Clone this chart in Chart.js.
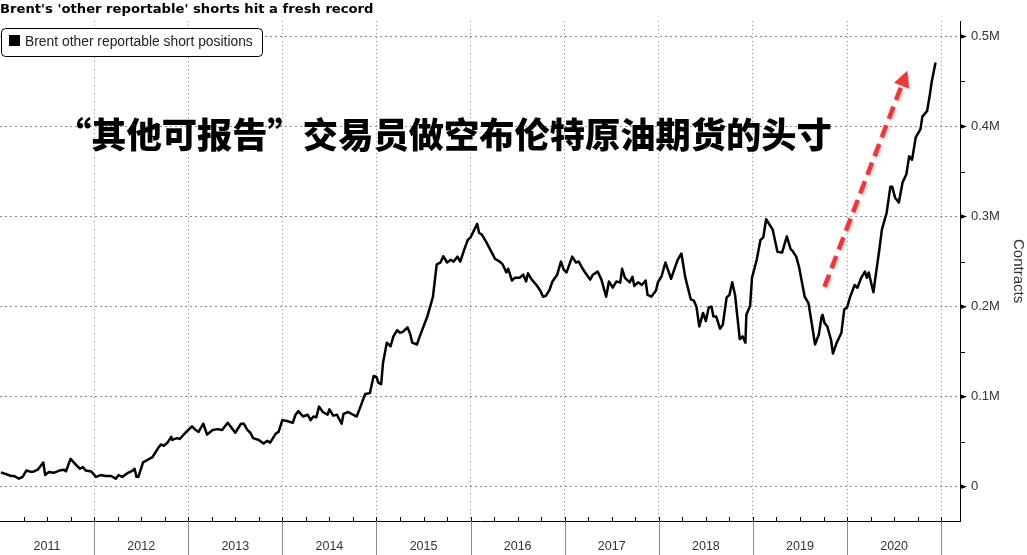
<!DOCTYPE html>
<html><head><meta charset="utf-8">
<script src="https://cdn.jsdelivr.net/npm/chart.js@4.4.1/dist/chart.umd.min.js"></script>
<style>html,body{margin:0;padding:0;background:#fff;overflow:hidden}#wrap{width:1027px;height:555px;position:relative}</style>
</head><body><div id="wrap"><canvas id="c" width="1027" height="555"></canvas></div>
<script>
const titleText = "Brent's 'other reportable' shorts hit a fresh record";
const seriesLabel = "Brent other reportable short positions";
const annotationText = "“其他可报告”交易员做空布伦特原油期货的头寸";
const axisTitle = "Contracts";
const yearLabels = ["2011","2012","2013","2014","2015","2016","2017","2018","2019","2020"];
const yTickValues = [0, 100, 200, 300, 400, 500]; // thousands of contracts
const arrowFrom = [2019.76, 222];
const arrowTo = [2020.64, 462];

// decimal year of each weekly observation (sampled)
const dates = [
2011.01,2011.12,2011.15,2011.20,2011.24,2011.28,2011.33,2011.36,2011.40,2011.46,2011.48,2011.52,2011.57,2011.63,2011.68,2011.70,2011.75,2011.81,2011.85,2011.88,2011.91,2011.97,
2012.02,2012.07,2012.12,2012.18,2012.23,2012.26,2012.30,2012.36,2012.41,2012.43,2012.45,2012.47,2012.52,2012.57,2012.62,2012.68,2012.71,2012.74,2012.78,2012.82,2012.83,2012.88,2012.91,2012.97,
2013.04,2013.08,2013.11,2013.16,2013.20,2013.26,2013.31,2013.36,2013.42,2013.45,2013.50,2013.56,2013.59,2013.63,2013.66,2013.69,2013.75,2013.80,2013.84,2013.87,2013.93,2013.96,
2014.00,2014.05,2014.11,2014.14,2014.17,2014.22,2014.27,2014.30,2014.33,2014.36,2014.39,2014.43,2014.48,2014.50,2014.54,2014.58,2014.63,2014.65,2014.70,2014.75,2014.79,2014.83,2014.88,2014.93,2014.97,
2015.00,2015.02,2015.05,2015.07,2015.11,2015.15,2015.18,2015.22,2015.25,2015.28,2015.33,2015.36,2015.38,2015.43,2015.46,2015.54,2015.60,2015.64,2015.68,2015.71,2015.75,2015.79,2015.82,2015.86,2015.89,2015.94,2015.97,
2016.00,2016.04,2016.07,2016.09,2016.12,2016.17,2016.21,2016.26,2016.31,2016.34,2016.38,2016.40,2016.44,2016.47,2016.52,2016.56,2016.59,2016.61,2016.65,2016.70,2016.74,2016.77,2016.80,2016.84,2016.87,2016.92,2016.96,2016.99,
2017.02,2017.08,2017.12,2017.15,2017.18,2017.21,2017.27,2017.30,2017.35,2017.39,2017.44,2017.47,2017.51,2017.55,2017.59,2017.61,2017.64,2017.69,2017.72,2017.74,2017.78,2017.82,2017.86,2017.88,2017.92,2017.97,2017.99,
2018.03,2018.07,2018.13,2018.17,2018.20,2018.24,2018.28,2018.34,2018.37,2018.40,2018.43,2018.47,2018.50,2018.53,2018.56,2018.58,2018.61,2018.65,2018.68,2018.72,2018.75,2018.78,2018.81,2018.86,2018.89,2018.92,2018.93,2018.97,2018.99,
2019.04,2019.08,2019.11,2019.14,2019.21,2019.26,2019.31,2019.36,2019.40,2019.42,2019.46,2019.49,2019.55,2019.59,2019.63,2019.66,2019.70,2019.73,2019.74,2019.76,2019.79,2019.83,2019.85,2019.89,2019.94,2019.97,
2020.00,2020.03,2020.08,2020.11,2020.15,2020.19,2020.21,2020.23,2020.28,2020.31,2020.34,2020.37,2020.42,2020.46,2020.48,2020.51,2020.55,2020.59,2020.63,2020.66,2020.69,2020.73,2020.78,2020.80,2020.84,2020.85,2020.88,2020.90,2020.94
];
// short positions, thousands of contracts
const shorts = [
16,12,12,9,11,18,16.5,17,19,27,13,16.5,15.5,18,19,17,31,24,20,22,18,17,
11,13,12,12,9,13,11,15.5,18,20,11,11,27,30,33,43,47,45.5,49,55.5,52,54,53,60,
67,63,61,70,58,63,64,63,71,67,60,70,70,63,60,54,52,48,51,49,59,61,
74,73,71,80,84,78,80,74,78,77,89,83,80,86,79,80,70,81,83,80,78,89,103,104,123,
122,115.5,114,138,160,156,167,174,171,172,177,169,160,158,167,189,211,247,249,256,249,252,250,255.5,250,265.5,274,
277,285.5,292,282,280,271,263,253,250,247,238,242,229,232,232,235.5,228,237,230,224,218,211,212,219,228,235.5,250,241,
238,255.5,249,250,244,239,230,235.5,239,230,211,228,221,228,226.7,242,232,227,233,223,227,224,229,213,211,218,227,
234,249,231,243,252,259,233,208,207,200,178,193,184,199,200,189,189,175.5,180,210,213,227,213,164,167,160,191,201,232,
252,274,277,297,285.5,261,260,278,264,262,255.5,244,211,204,178,158,169,189,191,182,178,163,148,160,171,197,
199,210,224,221,232,239,232,238,216,239,261,285.5,304,333,333,321,315.5,338,347,367,363,388,397,411,416,417,435.5,450,471
];

const fitFont = (ctx, text, weight, family, target, base) => {
  ctx.font = weight + ' ' + base + 'px ' + family;
  const w = ctx.measureText(text).width;
  return base * target / w;
};
const measureCtx = document.createElement('canvas').getContext('2d');
const titleSize = fitFont(measureCtx, titleText, 'bold', '"DejaVu Sans"', 374, 12);

const decor = {
  id: 'decor',
  beforeDraw(chart) {
    const c = chart.ctx;
    c.save(); c.fillStyle = '#fff'; c.fillRect(0, 0, chart.width, chart.height); c.restore();
  },
  afterDraw(chart) {
    const c = chart.ctx, xs = chart.scales.x, ys = chart.scales.y, a = chart.chartArea;
    c.save();
    // x axis: quarter ticks, year separators, labels
    c.strokeStyle = '#000'; c.lineWidth = 1;
    for (let q = 2011 * 4 + 1; q < 2021.2 * 4; q++) {
      const px = Math.round(xs.getPixelForValue(q / 4)) + 0.5;
      c.beginPath(); c.moveTo(px, a.bottom - 4); c.lineTo(px, a.bottom); c.stroke();
    }
    c.strokeStyle = '#8a8a8a';
    yearLabels.forEach(y => {
      const px = Math.round(xs.getPixelForValue(+y + 1)) + 0.5;
      c.beginPath(); c.moveTo(px, a.bottom); c.lineTo(px, chart.height); c.stroke();
    });
    c.fillStyle = '#333'; c.font = '12.5px "Liberation Sans"'; c.textAlign = 'center'; c.textBaseline = 'middle';
    yearLabels.forEach(y => c.fillText(y, xs.getPixelForValue(+y + 0.5), 547));
    // y axis: major markers & minor ticks
    c.fillStyle = '#000'; c.strokeStyle = '#000';
    yTickValues.forEach(v => {
      const py = ys.getPixelForValue(v);
      c.beginPath(); c.moveTo(a.right, py - 2.5); c.lineTo(a.right + 7, py); c.lineTo(a.right, py + 2.5); c.closePath(); c.fill();
      if (v < 500) {
        const pm = Math.round(ys.getPixelForValue(v + 50)) + 0.5;
        c.beginPath(); c.moveTo(a.right, pm); c.lineTo(a.right + 5, pm); c.stroke();
      }
    });
    // legend box
    c.fillStyle = '#fff'; c.strokeStyle = '#000'; c.lineWidth = 1;
    c.beginPath(); c.roundRect(1.5, 28.5, 261, 28, 4); c.fill(); c.stroke();
    c.fillStyle = '#000'; c.fillRect(9, 35, 11, 11);
    const ls = fitFont(c, seriesLabel, 'normal', '"Liberation Sans"', 228, 13);
    c.font = ls + 'px "Liberation Sans"'; c.fillStyle = '#222'; c.textAlign = 'left'; c.textBaseline = 'middle';
    c.fillText(chart.data.datasets[0].label, 25, 42);
    // big annotation
    const fs = fitFont(c, annotationText, '900', '"Noto Sans CJK SC"', 776, 34);
    c.font = '900 ' + fs + 'px "Noto Sans CJK SC"'; c.fillStyle = '#000'; c.textBaseline = 'middle';
    c.fillText(annotationText, 56, 135);
    // red dashed arrow
    const x0 = xs.getPixelForValue(arrowFrom[0]), y0 = ys.getPixelForValue(arrowFrom[1]);
    const x1 = xs.getPixelForValue(arrowTo[0]), y1 = ys.getPixelForValue(arrowTo[1]);
    const ang = Math.atan2(y1 - y0, x1 - x0), hl = 16, hw = 8;
    const bx = x1 - hl * Math.cos(ang), by = y1 - hl * Math.sin(ang);
    c.shadowColor = 'rgba(0,0,0,0.25)'; c.shadowBlur = 3; c.shadowOffsetX = 1.5; c.shadowOffsetY = 1.5;
    c.strokeStyle = '#e8393d'; c.lineWidth = 4.5; c.setLineDash([13, 7]); c.lineCap = 'butt';
    c.beginPath(); c.moveTo(x0, y0); c.lineTo(bx, by); c.stroke();
    c.setLineDash([]); c.fillStyle = '#e8393d';
    c.beginPath(); c.moveTo(x1, y1);
    c.lineTo(bx + hw * Math.sin(ang), by - hw * Math.cos(ang));
    c.lineTo(bx - hw * Math.sin(ang), by + hw * Math.cos(ang));
    c.closePath(); c.fill();
    c.restore();
  }
};

new Chart(document.getElementById('c'), {
  type: 'line',
  data: { datasets: [{ label: seriesLabel, data: dates.map((d, i) => ({ x: d, y: shorts[i] })),
    borderColor: '#000', borderWidth: 2.5, pointRadius: 0, tension: 0, fill: false, borderJoinStyle: 'round' }] },
  options: {
    responsive: false, animation: false, devicePixelRatio: 1,
    layout: { padding: { left: 0, right: 0, top: 0, bottom: 34 } },
    plugins: {
      legend: { display: false }, tooltip: { enabled: false },
      title: { display: true, text: titleText, align: 'start', color: '#000',
        font: { family: '"DejaVu Sans"', weight: 'bold', size: titleSize, lineHeight: 1.15 }, padding: { top: 2, bottom: 4 } }
    },
    scales: {
      x: { type: 'linear', min: 2011, max: 2021.2,
        afterBuildTicks: s => { s.ticks = yearLabels.map(y => ({ value: +y + 1 })); },
        grid: { color: '#8a8a8a', drawTicks: false },
        border: { display: true, color: '#000', width: 1, dash: [1, 3] },
        ticks: { display: false } },
      y: { position: 'right', min: -38, max: 517,
        afterBuildTicks: s => { s.ticks = yTickValues.map(v => ({ value: v })); },
        afterFit: s => { s.width = 67; },
        grid: { color: '#8a8a8a', drawTicks: false },
        border: { display: true, color: '#000', width: 1, dash: [2, 3] },
        ticks: { padding: 11, color: '#333', font: { family: '"Liberation Sans"', size: 13 },
          callback: v => v === 0 ? '0' : (v / 1000).toFixed(1) + 'M' },
        title: { display: true, text: axisTitle, color: '#333', font: { family: '"Liberation Sans"', size: 15 }, padding: 0 } }
    }
  },
  plugins: [decor]
});
</script></body></html>
